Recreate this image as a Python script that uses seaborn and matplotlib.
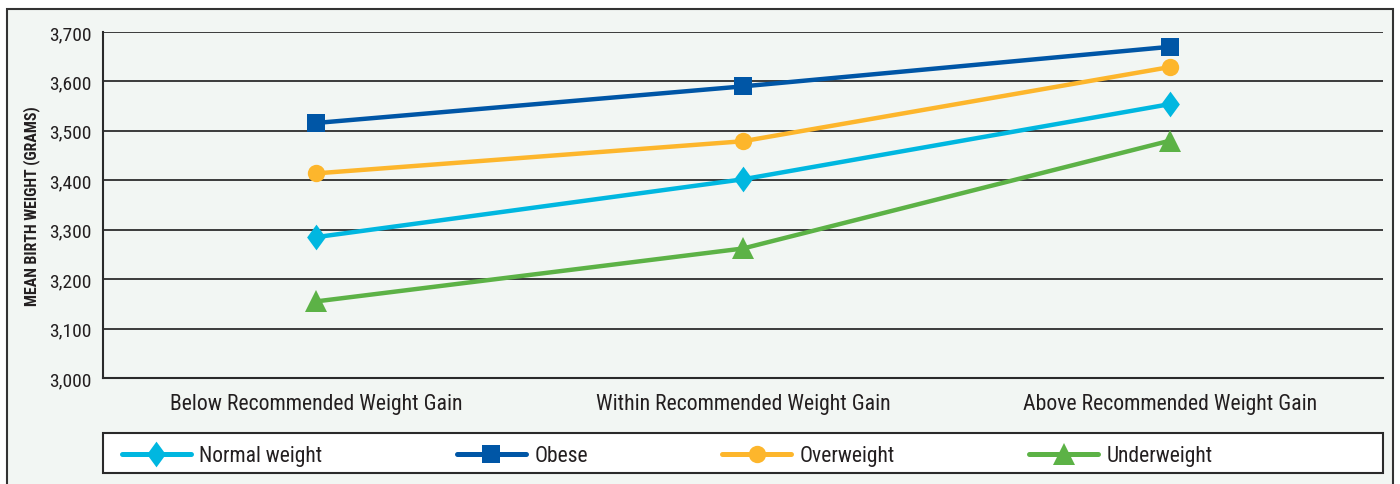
import matplotlib
matplotlib.use("Agg")
import matplotlib.pyplot as plt
from matplotlib.patches import Rectangle
from matplotlib.lines import Line2D
from matplotlib.ticker import FuncFormatter
import seaborn as sns
import pandas as pd

# Data
gain_categories = ["Below Recommended Weight Gain",
                   "Within Recommended Weight Gain",
                   "Above Recommended Weight Gain"]
normal_weight = [3285, 3402, 3554]
obese = [3516, 3590, 3670]
overweight = [3414, 3479, 3629]
underweight = [3155, 3262, 3480]
groups = ["Normal weight", "Obese", "Overweight", "Underweight"]
y_ticks = [3000, 3100, 3200, 3300, 3400, 3500, 3600, 3700]

series = {"Normal weight": normal_weight, "Obese": obese,
          "Overweight": overweight, "Underweight": underweight}
rows = []
for g in groups:
    for cat, v in zip(gain_categories, series[g]):
        rows.append({"gain": cat, "weight": v, "group": g})
df = pd.DataFrame(rows)

# Styling per group: a slightly tall diamond, square, circle, triangle
tall_diamond = [(0, 1), (0.73, 0), (0, -1), (-0.73, 0), (0, 1)]
colors = {"Normal weight": "#00b7e0", "Obese": "#0056a6",
          "Overweight": "#fdb62c", "Underweight": "#5cb246"}
markers = {"Normal weight": tall_diamond, "Obese": "s",
           "Overweight": "o", "Underweight": "^"}
msizes = {"Normal weight": 18.5, "Obese": 13, "Overweight": 12.5, "Underweight": 16}

sns.set_theme(style="white")
plt.rcParams["font.family"] = ["Roboto Condensed", "Archivo Narrow", "DejaVu Sans"]

bg = "#f2f6f3"
ink = "#231f20"
edge = "#2a2a2a"
fig = plt.figure(figsize=(14, 4.85), dpi=100, facecolor="white")
fig.patches.append(Rectangle((7 / 1400, -0.2), 1386 / 1400, 1.2 - 10 / 485,
                             transform=fig.transFigure, facecolor=bg,
                             edgecolor="#333333", lw=1.5, zorder=-10))
ax = fig.add_axes([103 / 1400, 1 - 379 / 485, 1280 / 1400, 346 / 485])
ax.set_facecolor(bg)

for g in groups:
    sub = df[df["group"] == g]
    sns.lineplot(data=sub, x="gain", y="weight", ax=ax, sort=False,
                 color=colors[g], lw=3.2, marker=markers[g],
                 markersize=msizes[g], markeredgewidth=0, legend=False)

ax.set_xlim(-0.5, 2.5)
ax.set_ylim(3000, 3700)
ax.set_yticks(y_ticks)
ax.yaxis.set_major_formatter(FuncFormatter(lambda v, p: f"{int(v):,}"))
ax.yaxis.grid(True, color="#3a3a3a", lw=1.4)
ax.set_axisbelow(True)
ax.tick_params(axis="both", length=0, colors=ink)
ax.tick_params(axis="x", pad=11, labelsize=15.7)
ax.tick_params(axis="y", pad=8, labelsize=14)
for s in ["top", "right"]:
    ax.spines[s].set_visible(False)
for s in ["left", "bottom"]:
    ax.spines[s].set_color(edge)
    ax.spines[s].set_linewidth(1.5)
ax.set_xlabel("")
ax.set_ylabel("MEAN BIRTH WEIGHT (GRAMS)", fontsize=11.4, fontweight="bold",
              color=ink, labelpad=7)

# Legend box spanning the plot width, entries packed toward the left
ax.add_patch(Rectangle((0, -0.2746), 1, 0.1156, transform=ax.transAxes,
                       facecolor="white", edgecolor=edge, lw=1.5,
                       clip_on=False, zorder=3))
handles = [Line2D([], [], color=colors[g], lw=3.6, marker=markers[g],
                  markersize=msizes[g], markeredgewidth=0,
                  solid_capstyle="round") for g in groups]
leg = ax.legend(handles, groups, ncol=4, mode="expand", loc="center left",
                bbox_to_anchor=(0.01484, -0.2254, 0.8523, 0), borderaxespad=0,
                frameon=False, fontsize=15.5, handlelength=3.2,
                handletextpad=0.4, borderpad=0)
leg.set_zorder(4)
for t in leg.get_texts():
    t.set_color(ink)

fig.savefig("out.png", dpi=100, facecolor="white")
